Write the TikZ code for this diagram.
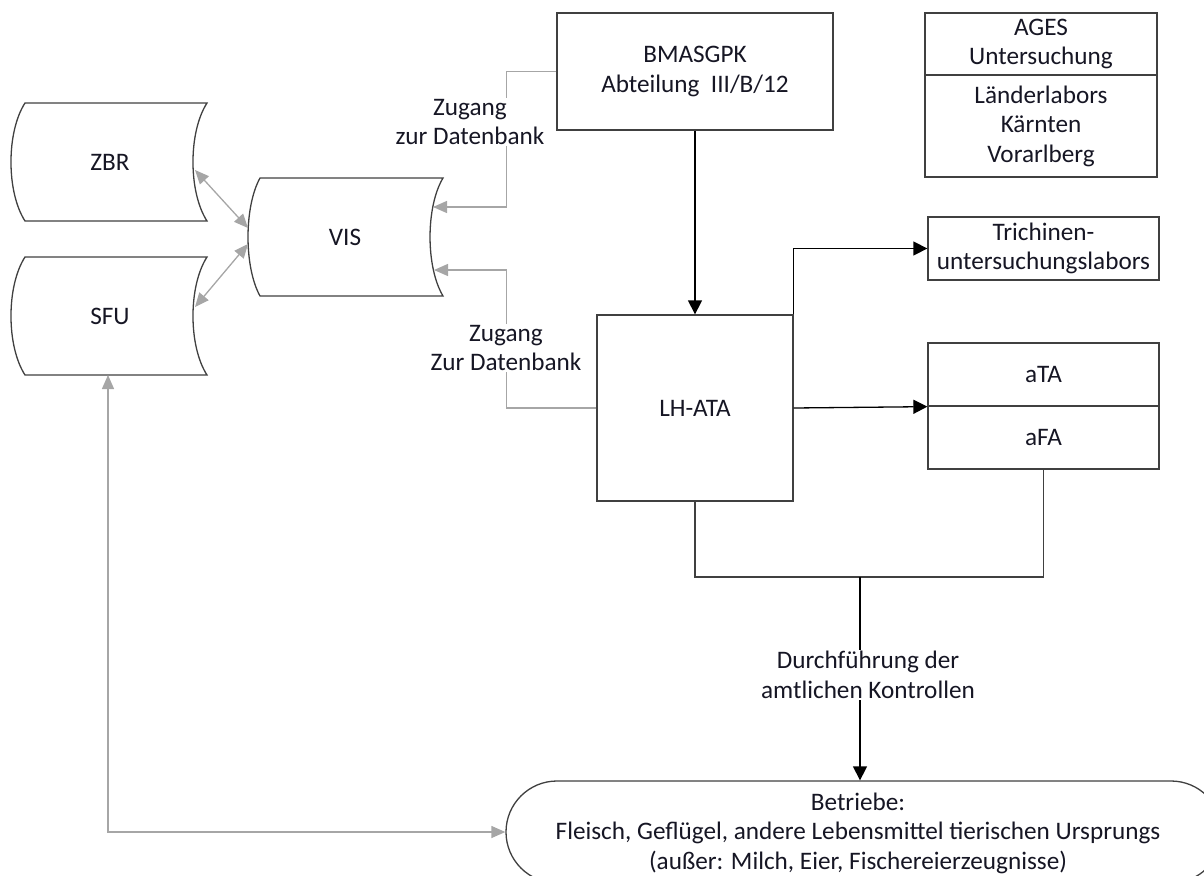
\documentclass[tikz,border=0pt]{standalone}
\usepackage{fontspec}
\setmainfont{Carlito}
\usetikzlibrary{arrows.meta,shapes.misc,calc}
\definecolor{txtc}{RGB}{22,22,36}
\definecolor{boxc}{RGB}{64,64,64}
\definecolor{grayc}{RGB}{166,166,166}
\begin{document}
\begin{tikzpicture}[x=1pt,y=-1pt,
  font=\fontsize{25.2}{29.5}\selectfont,
  txt/.style={text=txtc, align=center, inner sep=2pt},
  box/.style={draw=boxc, line width=1.3pt, fill=white, text=txtc, align=center, inner sep=0pt},
  shapeline/.style={draw=boxc, line width=1.3pt, fill=white},
  blackarrow/.style={draw=black, line width=1.3pt, -{Triangle[length=14pt,width=14pt]}},
  blackline/.style={draw=boxc, line width=1.3pt},
  grayarrow/.style={draw=grayc, line width=1.3pt, -{Triangle[length=14pt,width=12pt]}},
  graybi/.style={draw=grayc, line width=1.3pt, {Triangle[length=14pt,width=12pt]}-{Triangle[length=14pt,width=12pt]}},
  lbl/.style={fill=white, text=txtc, align=center, inner sep=1pt}]
\useasboundingbox (0,0) rectangle (1204,875);
\clip (0,0) rectangle (1204,875);

% stored-data shapes
\draw[shapeline] (25,103) -- (207,103) .. controls (188.3,132) and (188.3,192) .. (207,221)
  -- (25,221) .. controls (6.3,192) and (6.3,132) .. (25,103) -- cycle;
\draw[shapeline] (25,257) -- (207,257) .. controls (188.3,286) and (188.3,346) .. (207,375)
  -- (25,375) .. controls (6.3,346) and (6.3,286) .. (25,257) -- cycle;
\draw[shapeline] (260,178) -- (443,178) .. controls (425.7,207) and (425.7,267) .. (443,296)
  -- (260,296) .. controls (244,267) and (244,207) .. (260,178) -- cycle;
\node[txt] (zbr) at (110,162) {ZBR};
\node[txt] (sfu) at (110,316) {SFU};
\node[txt] (vis) at (345,237) {VIS};
\coordinate (zbrR) at (195,170);
\coordinate (sfuR) at (195,307);
\coordinate (sfuB) at (108,375);
\coordinate (visL1) at (248,228);
\coordinate (visL2) at (248,244);
\coordinate (visR1) at (433,207);
\coordinate (visR2) at (434,270);

% boxes
\node[box, minimum width=276pt, minimum height=117pt] (bmas) at (695,71.5) {BMASGPK\\Abteilung~ III/B/12};
\node[box, minimum width=196pt, minimum height=186pt] (lhata) at (695,408) {LH-ATA};
\node[box, minimum width=232pt, minimum height=62pt] (ages1) at (1041,44) {AGES\\Untersuchung};
\node[box, minimum width=232pt, minimum height=102pt] (ages2) at (1041,126) {Länderlabors\\Kärnten\\Vorarlberg};
\node[box, minimum width=231pt, minimum height=63pt] (trich) at (1043.5,248.5) {Trichinen-\\untersuchungslabors};
\node[box, minimum width=231pt, minimum height=63pt] (ata) at (1043.5,374.5) {aTA};
\node[box, minimum width=231pt, minimum height=63pt] (afa) at (1043.5,437.5) {aFA};
\node[draw=boxc, line width=1.3pt, fill=white, rounded rectangle, minimum width=716pt, minimum height=102pt, inner sep=0pt] (betr) at (864,832) {};
\node[txt] (betrtxt) at (858,833) {Betriebe:\\Fleisch, Geflügel, andere Lebensmittel tierischen Ursprungs\\(außer: Milch, Eier, Fischereierzeugnisse)};

% gray connectors
\draw[graybi] (zbrR) -- (visL1);
\draw[graybi] (sfuR) -- (visL2);
\draw[grayarrow] (bmas.west) -- ++(-50,0) |- (visR1);
\draw[grayarrow] (lhata.west) -- ++(-90,0) |- (visR2);
\draw[graybi] (sfuB) |- (betr.west);
\node[lbl] (lab1) at (470,122) {Zugang\\zur Datenbank};
\node[lbl] (lab2) at (506,348) {Zugang\\Zur Datenbank};

% black connectors
\draw[blackarrow] (bmas.south) -- (lhata.north);
\draw[blackarrow] (lhata.north east) |- (trich.west);
\draw[blackarrow] (lhata.east) -- (ata.south west);
\coordinate (junc) at (860,577);
\draw[blackline] (lhata.south) |- (junc) -| (afa.south);
\draw[blackarrow] (junc) -- (junc |- betr.north);
\node[lbl] (lab3) at (868,675) {Durchführung der\\amtlichen Kontrollen};
\end{tikzpicture}
\end{document}
